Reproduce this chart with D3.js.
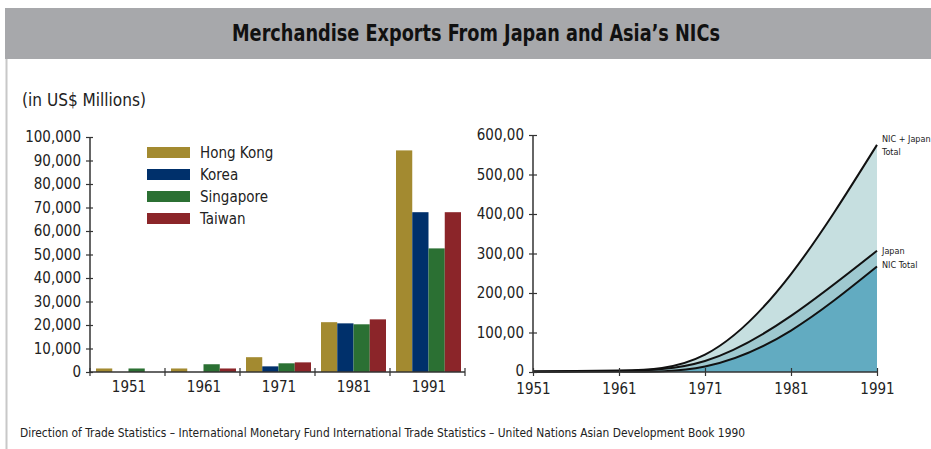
<!DOCTYPE html>
<html>
<head>
<meta charset="utf-8">
<script src="https://cdn.jsdelivr.net/npm/d3@7"></script>
<style>
  body { margin: 0; background: #fff; }
  svg { display: block; font-family: "DejaVu Sans", sans-serif; font-stretch: condensed; }
</style>
</head>
<body>
<svg id="chart" width="931" height="449"></svg>
<script>
// bar chart data (US$ millions)
const years = ["1951", "1961", "1971", "1981", "1991"];
const countries = ["Hong Kong", "Korea", "Singapore", "Taiwan"];
const countryColors = ["#a38a30", "#00306b", "#2b7033", "#8b2529"];
const hongKong = [1500, 1500, 6300, 21200, 94300];
const korea = [0, 0, 2400, 20700, 68000];
const singapore = [1500, 3300, 3700, 20300, 52600];
const taiwan = [0, 1500, 4100, 22400, 68000];
const barTicks = d3.range(0, 100001, 10000);

// area chart data
const lineYears = [1951, 1961, 1971, 1981, 1991];
const nicTotal = [0.5, 1, 14, 105, 267];
const japan = [1, 2.5, 28, 142, 307];
const nicJapanTotal = [1.5, 3.5, 44, 248, 575];
const areaTicks = [0, 100, 200, 300, 400, 500, 600];

const svg = d3.select("#chart");

// header band + left rule
svg.append("rect").attr("x", 5).attr("y", 8).attr("width", 926).attr("height", 51).attr("fill", "#a7a8ab");
svg.append("line").attr("x1", 6.5).attr("x2", 6.5).attr("y1", 59).attr("y2", 449)
  .attr("stroke", "#c8c8c8").attr("stroke-width", 2);
svg.append("text").attr("x", 232).attr("y", 41)
  .attr("font-size", 23).attr("font-weight", "bold").attr("fill", "#111")
  .attr("textLength", 488).attr("lengthAdjust", "spacingAndGlyphs")
  .text("Merchandise Exports From Japan and Asia\u2019s NICs");
svg.append("text").attr("x", 22).attr("y", 106).attr("font-size", 17).attr("fill", "#222")
  .attr("textLength", 124).attr("lengthAdjust", "spacingAndGlyphs")
  .text("(in US$ Millions)");
svg.append("text").attr("x", 20).attr("y", 437).attr("font-size", 12.5).attr("fill", "#222")
  .attr("textLength", 725).attr("lengthAdjust", "spacingAndGlyphs")
  .text("Direction of Trade Statistics \u2013 International Monetary Fund International Trade Statistics \u2013 United Nations Asian Development Book 1990");

const axisColor = "#333";

// ---------- left: grouped bars ----------
const x0 = d3.scaleBand().domain(years).range([90, 465]).paddingInner(0).paddingOuter(0);
const x1 = d3.scaleBand().domain(countries).range([6, 71]).padding(0);
const yB = d3.scaleLinear().domain([0, 100000]).range([372, 137]);

const series = [hongKong, korea, singapore, taiwan];
const rows = years.map((yr, i) => ({ year: yr, vals: countries.map((c, j) => ({ c, v: series[j][i], col: countryColors[j] })) }));

const groups = svg.append("g").selectAll("g").data(rows).enter().append("g")
  .attr("transform", d => `translate(${x0(d.year)},0)`);
groups.selectAll("rect").data(d => d.vals).enter().append("rect")
  .attr("x", d => x1(d.c))
  .attr("width", x1.bandwidth())
  .attr("y", d => yB(d.v))
  .attr("height", d => yB(0) - yB(d.v))
  .attr("fill", d => d.col);

// y axis
const gyB = svg.append("g").attr("transform", "translate(90,0)")
  .call(d3.axisLeft(yB).tickValues(barTicks).tickFormat(d3.format(",")).tickSize(6).tickPadding(3));
gyB.selectAll(".tick line").attr("x2", -4).attr("x1", 3);
// x axis with boundary ticks
const gxB = svg.append("g").attr("transform", "translate(0,372)");
gxB.append("line").attr("x1", 90).attr("x2", 465).attr("stroke", axisColor).attr("stroke-width", 1.5);
gxB.selectAll(".bt").data(years.concat(["end"])).enter().append("line")
  .attr("x1", (d, i) => 90 + i * x0.step()).attr("x2", (d, i) => 90 + i * x0.step())
  .attr("y1", -4).attr("y2", 4).attr("stroke", axisColor).attr("stroke-width", 1.2);
gxB.selectAll(".lbl").data(years).enter().append("text")
  .attr("x", d => x0(d) + x0.bandwidth() / 2 + 1.5).attr("y", 20)
  .attr("text-anchor", "middle").attr("font-size", 15).attr("fill", "#222").text(d => d);

// legend
const leg = svg.append("g").selectAll("g").data(countries).enter().append("g")
  .attr("transform", (d, i) => `translate(147,${147 + i * 22})`);
leg.append("rect").attr("width", 43).attr("height", 11).attr("fill", (d, i) => countryColors[i]);
leg.append("text").attr("x", 53).attr("y", 11).attr("font-size", 15).attr("fill", "#222").text(d => d);

// ---------- right: layered areas ----------
const xA = d3.scaleLinear().domain([1951, 1991]).range([533, 877]);
const yA = d3.scaleLinear().domain([0, 600]).range([372, 135]);
const curve = d3.curveNatural;

const pts = arr => lineYears.map((yr, i) => ({ x: yr, v: arr[i] }));
const area = d3.area().x(d => xA(d.x)).y0(yA(0)).y1(d => Math.min(yA(d.v), yA(0))).curve(curve);
const line = d3.line().x(d => xA(d.x)).y(d => yA(d.v)).curve(curve);

svg.append("path").datum(pts(nicJapanTotal)).attr("d", area).attr("fill", "#c6dfe0");
svg.append("path").datum(pts(japan)).attr("d", area).attr("fill", "#9ec8cf");
svg.append("path").datum(pts(nicTotal)).attr("d", area).attr("fill", "#62abc1");
[nicJapanTotal, japan, nicTotal].forEach(arr => {
  svg.append("path").datum(pts(arr)).attr("d", line).attr("fill", "none")
    .attr("stroke", "#111").attr("stroke-width", 2);
});

const gyA = svg.append("g").attr("transform", "translate(533,0)")
  .call(d3.axisLeft(yA).tickValues(areaTicks).tickFormat(d => d === 0 ? "0" : d + ",00").tickSize(4).tickPadding(5));
gyA.selectAll(".tick line").attr("x1", 4);
gyA.selectAll(".tick text").attr("dy", (d) => d === 0 ? "0.2em" : "0.32em");
const gxA = svg.append("g").attr("transform", "translate(0,372)")
  .call(d3.axisBottom(xA).tickValues(lineYears).tickFormat(d3.format("d")).tickSize(4).tickPadding(7));
gxA.selectAll(".tick line").attr("y1", -4);

[gyB, gyA, gxA].forEach(g => {
  g.attr("font-family", null).attr("font-size", null);
  g.select(".domain").attr("stroke", axisColor).attr("stroke-width", 1.5);
  g.selectAll(".tick line").attr("stroke", axisColor).attr("stroke-width", 1.2);
  g.selectAll("text").attr("font-size", 15).attr("fill", "#222");
});
gyB.select(".domain").attr("d", "M0,137V372");
gyA.select(".domain").attr("d", "M0,135V372");
gxA.select(".domain").attr("d", "M533,0H877");

// series labels at right edge
const notes = [
  { t: "NIC + Japan", v: nicJapanTotal[4], dy: -3 },
  { t: "Total", v: nicJapanTotal[4], dy: 10 },
  { t: "Japan", v: japan[4], dy: 3 },
  { t: "NIC Total", v: nicTotal[4], dy: 1 }
];
svg.append("g").selectAll("text").data(notes).enter().append("text")
  .attr("x", 882).attr("y", d => yA(d.v) + d.dy).attr("font-size", 9).attr("fill", "#222")
  .text(d => d.t);
</script>
</body>
</html>
